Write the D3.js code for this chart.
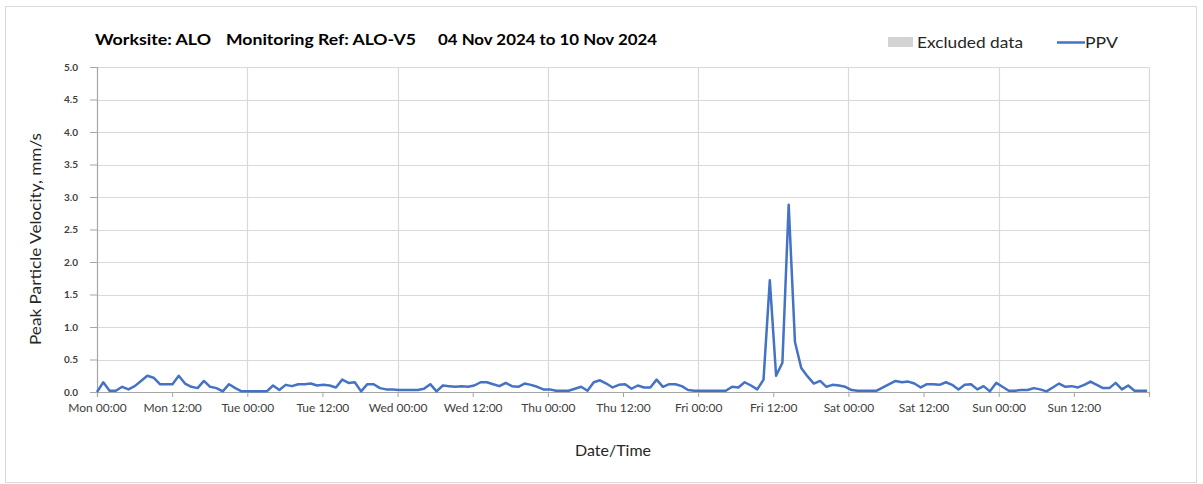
<!DOCTYPE html>
<html>
<head>
<meta charset="utf-8">
<script src="https://cdn.jsdelivr.net/npm/d3@7/dist/d3.min.js"></script>
<style>
  html, body { margin: 0; padding: 0; background: #fff; }
  svg { display: block; }
  text { font-family: Lato, "Open Sans", "Noto Sans", sans-serif; }
</style>
</head>
<body>
<svg id="chart" width="1203" height="484"></svg>
<script>
// ---- data ----
const titleParts = ["Worksite: ALO", "Monitoring Ref: ALO-V5", "04 Nov 2024 to 10 Nov 2024"];
const seriesName = "PPV";
const excludedName = "Excluded data";
const xTitle = "Date/Time";
const yTitle = "Peak Particle Velocity, mm/s";
const startTime = new Date(2024, 10, 4, 0, 0);
const endTime = new Date(2024, 10, 11, 0, 0);
const sampleMinutes = 60.25;
const yTicks = [0, 0.5, 1, 1.5, 2, 2.5, 3, 3.5, 4, 4.5, 5];
// PPV readings (mm/s), one per sample from Mon 00:00
const ppv = [
  0.00, 0.15, 0.02, 0.02, 0.08, 0.04, 0.09, 0.17, 0.25, 0.22, 0.12, 0.12,
  0.12, 0.25, 0.13, 0.08, 0.06, 0.17, 0.08, 0.06, 0.01, 0.12, 0.06, 0.01,
  0.01, 0.01, 0.01, 0.01, 0.10, 0.03, 0.11, 0.09, 0.12, 0.12, 0.13, 0.10,
  0.11, 0.10, 0.07, 0.19, 0.14, 0.15, 0.01, 0.12, 0.12, 0.06, 0.04, 0.04,
  0.03, 0.03, 0.03, 0.03, 0.05, 0.12, 0.01, 0.10, 0.09, 0.08, 0.09, 0.08,
  0.10, 0.15, 0.15, 0.12, 0.09, 0.14, 0.09, 0.08, 0.13, 0.11, 0.08, 0.04,
  0.04, 0.02, 0.02, 0.02, 0.05, 0.08, 0.02, 0.15, 0.18, 0.13, 0.07, 0.11,
  0.12, 0.05, 0.10, 0.07, 0.07, 0.19, 0.08, 0.12, 0.12, 0.09, 0.03, 0.02,
  0.02, 0.02, 0.02, 0.02, 0.02, 0.08, 0.07, 0.15, 0.10, 0.04, 0.19, 1.72,
  0.25, 0.45, 2.88, 0.77, 0.37, 0.24, 0.13, 0.17, 0.08, 0.11, 0.10, 0.08,
  0.03, 0.02, 0.02, 0.02, 0.02, 0.07, 0.12, 0.17, 0.15, 0.16, 0.13, 0.07,
  0.12, 0.12, 0.11, 0.15, 0.11, 0.04, 0.11, 0.12, 0.04, 0.09, 0.01, 0.14,
  0.08, 0.02, 0.02, 0.03, 0.03, 0.06, 0.04, 0.01, 0.07, 0.13, 0.08, 0.09,
  0.07, 0.11, 0.16, 0.11, 0.06, 0.06, 0.14, 0.04, 0.10, 0.02, 0.02, 0.02
];

// ---- layout ----
const svg = d3.select("#chart");
const plot = { left: 97, right: 1149, top: 67, bottom: 392 };
const x = d3.scaleTime().domain([startTime, endTime]).range([plot.left, plot.right]);
const y = d3.scaleLinear().domain([0, 5]).range([plot.bottom, plot.top]);

const data = ppv.map((v, i) => ({ t: new Date(startTime.getTime() + i * sampleMinutes * 60000), v }));

// outer frame
svg.append("rect").attr("x", 5.5).attr("y", 6.5).attr("width", 1191).attr("height", 476)
  .attr("fill", "#fff").attr("stroke", "#d9d9d9");

// horizontal gridlines
svg.append("g").selectAll("line").data(yTicks.filter(d => d > 0)).join("line")
  .attr("x1", plot.left).attr("x2", plot.right)
  .attr("y1", d => Math.round(y(d)) + 0.5).attr("y2", d => Math.round(y(d)) + 0.5)
  .attr("stroke", "#d9d9d9").attr("stroke-width", 1.2);

// vertical gridlines at midnight
const dayTicks = d3.timeDay.range(d3.timeDay.offset(startTime, 1), d3.timeDay.offset(endTime, 1));
svg.append("g").selectAll("line").data(dayTicks).join("line")
  .attr("x1", d => Math.round(x(d)) + 0.5).attr("x2", d => Math.round(x(d)) + 0.5)
  .attr("y1", plot.top).attr("y2", plot.bottom)
  .attr("stroke", "#d9d9d9").attr("stroke-width", 1.2);

// y axis
const yAxis = svg.append("g").attr("transform", `translate(${plot.left},0)`)
  .call(d3.axisLeft(y).tickValues(yTicks).tickFormat(d3.format(".1f")).tickSize(7).tickPadding(12));
yAxis.select(".domain").attr("stroke", "#a6a6a6").attr("stroke-width", 1.2);
yAxis.selectAll(".tick line").attr("stroke", "#a6a6a6");
yAxis.selectAll(".tick text").attr("fill", "#404040").style("font-size", "10px").style("font-weight", "bold")
  .style("font-family", "Lato, sans-serif");

// x axis
const xAxis = svg.append("g").attr("transform", `translate(0,${plot.bottom})`)
  .call(d3.axisBottom(x).ticks(d3.timeHour.every(12)).tickFormat(d3.timeFormat("%a %H:%M")).tickSize(5).tickPadding(6));
xAxis.select(".domain").attr("stroke", "#a6a6a6").attr("stroke-width", 1.2);
xAxis.selectAll(".tick line").attr("stroke", "#a6a6a6");
xAxis.selectAll(".tick text").attr("fill", "#404040").style("font-size", "12px");
xAxis.selectAll(".tick").filter(d => +d === +endTime).select("text").remove();

// PPV line
const line = d3.line().x(d => x(d.t)).y(d => y(d.v));
svg.append("path").datum(data).attr("d", line)
  .attr("fill", "none").attr("stroke", "#4472C4").attr("stroke-width", 2.5)
  .attr("stroke-linejoin", "round");

// axis titles
svg.append("text").attr("x", 613).attr("y", 456).attr("text-anchor", "middle")
  .style("font-size", "16px").attr("fill", "#262626").text(xTitle);
svg.append("text").attr("transform", "translate(41,239) rotate(-90)").attr("text-anchor", "middle")
  .attr("textLength", 212).attr("lengthAdjust", "spacingAndGlyphs")
  .style("font-size", "16px").attr("fill", "#262626").text(yTitle);

// title
const titleX = [95, 226, 438];
const titleW = [116, 190, 219];
svg.append("g").selectAll("text").data(titleParts).join("text")
  .attr("x", (d, i) => titleX[i]).attr("y", 45)
  .attr("textLength", (d, i) => titleW[i]).attr("lengthAdjust", "spacingAndGlyphs")
  .style("font-size", "16px").style("font-weight", "bold").attr("fill", "#000")
  .text(d => d);

// legend
svg.append("rect").attr("x", 888).attr("y", 37).attr("width", 25).attr("height", 10).attr("fill", "#d3d3d3");
svg.append("text").attr("x", 917).attr("y", 48).attr("textLength", 106).attr("lengthAdjust", "spacingAndGlyphs")
  .style("font-size", "16px").attr("fill", "#262626").text(excludedName);
svg.append("line").attr("x1", 1057).attr("x2", 1085).attr("y1", 42.5).attr("y2", 42.5)
  .attr("stroke", "#4472C4").attr("stroke-width", 2.5);
svg.append("text").attr("x", 1085).attr("y", 48).attr("textLength", 33).attr("lengthAdjust", "spacingAndGlyphs")
  .style("font-size", "16px").attr("fill", "#262626").text(seriesName);
</script>
</body>
</html>
